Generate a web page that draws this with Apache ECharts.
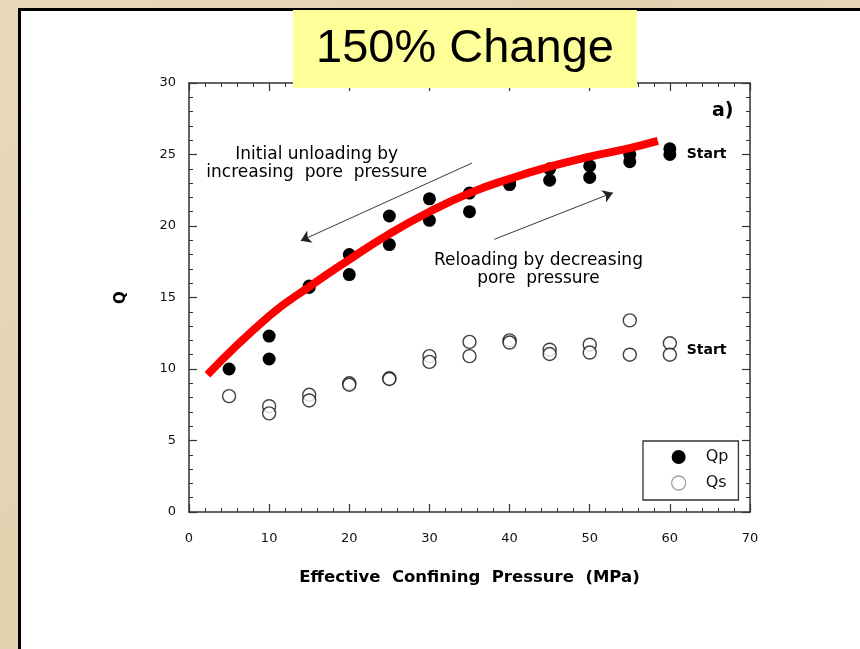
<!DOCTYPE html>
<html>
<head>
<meta charset="utf-8">
<script src="https://cdn.jsdelivr.net/npm/echarts@6/dist/echarts.min.js"></script>
<style>
  html, body { margin: 0; padding: 0; width: 860px; height: 649px; overflow: hidden;
    background: linear-gradient(135deg, #e9dabb 0%, #e3d2b0 40%, #e8d9ba 70%, #e2d1ae 100%); }
  #panel { position: absolute; left: 18px; top: 8px; width: 860px; height: 660px;
    background: #ffffff; border-left: 3px solid #000; border-top: 3px solid #000; box-sizing: border-box; }
  #chart { position: absolute; left: 0; top: 0; width: 860px; height: 649px; }
</style>
</head>
<body>
<div id="panel"></div>
<div id="chart"></div>
<script>
// ---- data ----
const titleText = '150% Change';
const xTicks = [0, 10, 20, 30, 40, 50, 60, 70];
const yTicks = [0, 5, 10, 15, 20, 25, 30];
const qpData = [
  [5, 10.0],
  [10, 12.3], [10, 10.7],
  [15, 15.8], [15, 15.7],
  [20, 18.0], [20, 16.6],
  [25, 20.7], [25, 18.7],
  [30, 21.9], [30, 20.4],
  [35, 22.3], [35, 21.0],
  [40, 23.0], [40, 22.9],
  [45, 24.0], [45, 23.2],
  [50, 24.2], [50, 23.4],
  [55, 25.0], [55, 24.5],
  [60, 25.4], [60, 25.0]
];
const qsData = [
  [5, 8.1],
  [10, 7.4], [10, 6.9],
  [15, 8.2], [15, 7.8],
  [20, 9.0], [20, 8.9],
  [25, 9.35], [25, 9.3],
  [30, 10.9], [30, 10.5],
  [35, 11.9], [35, 10.9],
  [40, 12.0], [40, 11.85],
  [45, 11.35], [45, 11.05],
  [50, 11.7], [50, 11.15],
  [55, 13.4], [55, 11.0],
  [60, 11.8], [60, 11.0]
];
const fitCurve = [
  [2.3, 9.6], [10, 13.7], [15, 15.75], [20, 17.65], [25, 19.45], [30, 21.0],
  [35, 22.3], [40, 23.3], [45, 24.15], [50, 24.85], [55, 25.45], [58.5, 25.95]
];
const arrowUnload = [[35.3, 24.4], [13.95, 18.97]];
const arrowReload = [[38.1, 19.07], [52.9, 22.33]];
const notes = [
  { name: 'Initial unloading by\nincreasing  pore  pressure', value: [15.94, 24.34], kind: 'text' },
  { name: 'Reloading by decreasing\npore  pressure', value: [43.6, 16.92], kind: 'text' },
  { name: 'Start', value: [62.1, 25.03], kind: 'start' },
  { name: 'Start', value: [62.1, 11.33], kind: 'start' },
  { name: 'a)', value: [66.6, 28.05], kind: 'panel' }
];

const FONT = '"Liberation Sans", Arial, Helvetica, sans-serif';
const WFONT = '"DejaVu Sans", Verdana, sans-serif';
const axisCol = '#333';

function xAxisCfg(pos, showLabel) {
  return {
    type: 'value', position: pos, min: xTicks[0], max: xTicks[xTicks.length - 1], interval: 10,
    axisLine: { show: true, onZero: false, lineStyle: { color: axisCol, width: 1.5 } },
    axisTick: { show: true, inside: true, length: 8, lineStyle: { color: axisCol, width: 1.2 } },
    minorTick: { show: true, splitNumber: 5, length: 4, lineStyle: { color: axisCol, width: 1 } },
    splitLine: { show: false },
    axisLabel: { show: showLabel, margin: 20, color: '#111', fontSize: 13, fontFamily: WFONT },
    name: showLabel ? 'Effective  Confining  Pressure  (MPa)' : '',
    nameLocation: 'middle', nameGap: 57,
    nameTextStyle: { fontFamily: WFONT, fontWeight: 'bold', fontSize: 16.5, color: '#000' }
  };
}
function yAxisCfg(pos, showLabel) {
  return {
    type: 'value', position: pos, min: yTicks[0], max: yTicks[yTicks.length - 1], interval: 5,
    axisLine: { show: true, onZero: false, lineStyle: { color: axisCol, width: 1.5 } },
    axisTick: { show: true, inside: true, length: 8, lineStyle: { color: axisCol, width: 1.2 } },
    minorTick: { show: true, splitNumber: 5, length: 4, lineStyle: { color: axisCol, width: 1 } },
    splitLine: { show: false },
    axisLabel: { show: showLabel, margin: 13, color: '#111', fontSize: 13, fontFamily: WFONT },
    name: showLabel ? 'Q' : '',
    nameLocation: 'middle', nameGap: 60, nameRotate: 90,
    nameTextStyle: { fontFamily: WFONT, fontWeight: 'bold', fontSize: 15, color: '#000' }
  };
}

function noteLabel(n) {
  const base = { show: true, position: 'inside', formatter: n.name, color: '#000',
                 textBorderWidth: 0, textShadowBlur: 0, opacity: 1, verticalAlign: 'middle' };
  if (n.kind === 'text') {
    return Object.assign(base, { fontFamily: WFONT, fontSize: 17, lineHeight: 18, align: 'center' });
  } else if (n.kind === 'start') {
    return Object.assign(base, { fontFamily: WFONT, fontSize: 14, fontWeight: 'bold', align: 'left' });
  }
  return Object.assign(base, { fontFamily: WFONT, fontSize: 19, fontWeight: 'bold', align: 'center' });
}

const chart = echarts.init(document.getElementById('chart'), null, { renderer: 'canvas' });
const option = {
  backgroundColor: 'transparent',
  animation: false,
  title: {
    text: titleText, left: 293, top: 10, z: 20,
    backgroundColor: '#ffff99', padding: [11, 23, 11, 23],
    textStyle: { fontFamily: FONT, fontSize: 47, fontWeight: 'normal', color: '#000', lineHeight: 56 }
  },
  grid: { left: 189, right: 110, top: 83, bottom: 137, containLabel: false },
  xAxis: [xAxisCfg('bottom', true), xAxisCfg('top', false)],
  yAxis: [yAxisCfg('left', true), yAxisCfg('right', false)],
  legend: {
    data: [
      { name: 'Qp', icon: 'circle', itemStyle: { color: '#000', borderWidth: 0 } },
      { name: 'Qs', icon: 'circle', itemStyle: { color: '#fff', borderColor: '#888', borderWidth: 1.3 } }
    ],
    orient: 'vertical', left: 643, top: 441, z: 20,
    itemWidth: 14, itemHeight: 14, itemGap: 10,
    padding: [8, 10, 9, 28],
    backgroundColor: '#fff', borderColor: '#333', borderWidth: 1.3,
    textStyle: { fontFamily: WFONT, fontSize: 16, color: '#111', padding: [0, 0, 0, 15] }
  },
  series: [
    {
      name: 'Qs', type: 'scatter', xAxisIndex: 0, yAxisIndex: 0, data: qsData,
      symbol: 'circle', symbolSize: 13,
      itemStyle: { color: '#fff', borderColor: '#111', borderWidth: 1.4 }, z: 3
    },
    {
      name: 'Qp', type: 'scatter', xAxisIndex: 0, yAxisIndex: 0, data: qpData,
      symbol: 'circle', symbolSize: 13,
      itemStyle: { color: '#000', opacity: 1 }, z: 3
    },
    {
      name: 'fit', type: 'line', xAxisIndex: 0, yAxisIndex: 0, data: fitCurve,
      smooth: 0.5, showSymbol: false, symbol: 'none', silent: true,
      lineStyle: { color: '#ff0000', width: 8, cap: 'butt' }, z: 4
    },
    {
      name: 'notes', type: 'scatter', xAxisIndex: 0, yAxisIndex: 0,
      symbolSize: 0, silent: true, z: 5,
      itemStyle: { color: '#000' },
      data: notes.map(n => ({ name: n.name, value: n.value, label: noteLabel(n) }))
    },
    {
      name: 'arrows', type: 'line', xAxisIndex: 0, yAxisIndex: 0, data: [],
      silent: true, z: 5,
      markLine: {
        silent: true, symbol: ['none', 'arrow'], symbolSize: 10,
        lineStyle: { color: '#222', width: 0.9, type: 'solid' },
        itemStyle: { color: '#222' },
        label: { show: false },
        emphasis: { disabled: true },
        data: [
          [{ coord: arrowUnload[0] }, { coord: arrowUnload[1] }],
          [{ coord: arrowReload[0] }, { coord: arrowReload[1] }]
        ]
      }
    }
  ]
};
chart.setOption(option);
</script>
</body>
</html>
